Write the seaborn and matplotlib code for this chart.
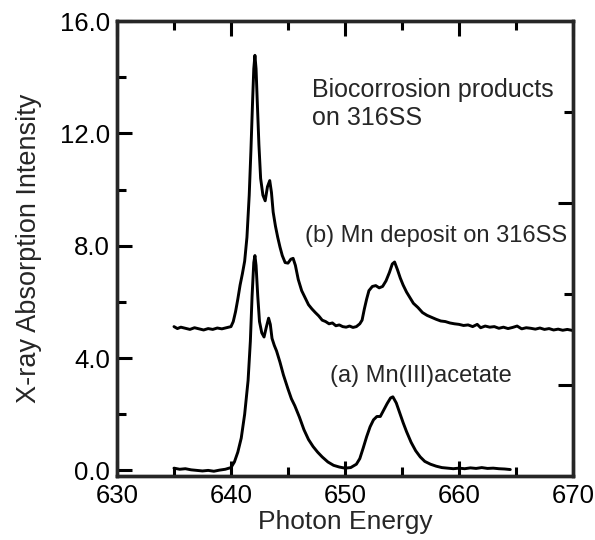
import matplotlib
matplotlib.use("Agg")
import matplotlib.pyplot as plt
from matplotlib.ticker import MultipleLocator, FixedLocator, FormatStrFormatter, NullFormatter
import pandas as pd
import seaborn as sns

# (a) Mn(III) acetate reference spectrum
energy_a = [635.0, 635.5, 636.0, 636.5, 637.0, 637.5, 638.0, 638.5, 639.0, 639.5,
            640.0, 640.3, 640.6, 640.9, 641.2, 641.5, 641.7, 641.85, 642.0, 642.1,
            642.2, 642.35, 642.5, 642.7, 642.9, 643.1, 643.3, 643.45, 643.6, 643.8,
            644.0, 644.3, 644.6, 645.0, 645.3, 645.6, 646.0, 646.4, 646.8, 647.2,
            647.6, 648.0, 648.5, 649.0, 649.5, 650.0, 650.5, 651.0, 651.3, 651.6,
            651.9, 652.2, 652.5, 652.8, 653.1, 653.4, 653.7, 654.0, 654.2, 654.5,
            654.8, 655.1, 655.4, 655.8, 656.2, 656.6, 657.0, 657.5, 658.0, 658.5,
            659.0, 659.5, 660.0, 660.5, 661.0, 661.5, 662.0, 662.5, 663.0, 663.5,
            664.0, 664.5]
intensity_a = [0.08, 0.04, 0.06, 0.02, 0.00, -0.02, 0.00, -0.03, 0.01, 0.04,
               0.10, 0.30, 0.65, 1.15, 2.00, 3.20, 4.60, 6.20, 7.40, 7.65,
               7.30, 6.20, 5.30, 4.90, 4.75, 5.10, 5.42, 5.20, 4.70, 4.45,
               4.25, 3.85, 3.40, 2.90, 2.55, 2.30, 1.90, 1.45, 1.10, 0.85,
               0.65, 0.48, 0.30, 0.18, 0.12, 0.08, 0.10, 0.22, 0.42, 0.80,
               1.20, 1.55, 1.80, 1.92, 1.92, 2.15, 2.38, 2.58, 2.62, 2.40,
               2.05, 1.70, 1.38, 1.00, 0.70, 0.48, 0.32, 0.22, 0.15, 0.10,
               0.08, 0.06, 0.08, 0.06, 0.09, 0.07, 0.10, 0.07, 0.08, 0.06,
               0.05, 0.03]

# (b) Mn deposit on 316SS (offset spectrum)
energy_b = [635.0, 635.3, 635.6, 636.0, 636.4, 636.8, 637.2, 637.6, 638.0, 638.4,
            638.8, 639.2, 639.6, 640.0, 640.2, 640.4, 640.6, 640.8, 641.0, 641.2,
            641.4, 641.6, 641.75, 641.9, 642.0, 642.1, 642.2, 642.3, 642.45, 642.6,
            642.8, 643.0, 643.2, 643.4, 643.55, 643.7, 643.9, 644.1, 644.3, 644.5,
            644.75, 645.0, 645.25, 645.45, 645.65, 645.9, 646.2, 646.5, 646.8, 647.1,
            647.4, 647.7, 648.0, 648.3, 648.6, 648.9, 649.2, 649.5, 649.8, 650.1,
            650.4, 650.7, 651.0, 651.3, 651.5, 651.7, 651.9, 652.1, 652.4, 652.7,
            653.0, 653.3, 653.6, 653.9, 654.15, 654.35, 654.6, 654.85, 655.1, 655.4,
            655.7, 656.0, 656.4, 656.8, 657.2, 657.6, 658.0, 658.4, 658.8, 659.2,
            659.6, 660.0, 660.4, 660.8, 661.2, 661.6, 661.9, 662.3, 662.7, 663.1,
            663.5, 663.9, 664.3, 664.7, 665.1, 665.5, 665.9, 666.3, 666.7, 667.1,
            667.5, 667.9, 668.3, 668.7, 669.1, 669.5, 670.0]
intensity_b = [5.12, 5.05, 5.10, 5.06, 5.02, 5.08, 5.04, 5.00, 5.05, 5.02,
               5.07, 5.04, 5.08, 5.12, 5.30, 5.65, 6.10, 6.60, 7.00, 7.45,
               8.30, 9.80, 11.40, 13.20, 14.30, 14.78, 14.30, 13.20, 11.60, 10.40,
               9.80, 9.60, 10.10, 10.32, 9.90, 9.20, 8.70, 8.30, 7.95, 7.65,
               7.40, 7.38, 7.52, 7.55, 7.30, 6.80, 6.40, 6.15, 5.90, 5.75,
               5.62, 5.50, 5.35, 5.30, 5.22, 5.25, 5.15, 5.18, 5.12, 5.10,
               5.14, 5.09, 5.12, 5.22, 5.35, 5.75, 6.10, 6.40, 6.55, 6.58,
               6.50, 6.55, 6.75, 7.05, 7.35, 7.42, 7.15, 6.85, 6.60, 6.35,
               6.15, 5.95, 5.80, 5.62, 5.52, 5.45, 5.38, 5.32, 5.30, 5.25,
               5.22, 5.20, 5.16, 5.18, 5.12, 5.20, 5.08, 5.14, 5.10, 5.12,
               5.06, 5.10, 5.05, 5.09, 5.14, 5.04, 5.08, 5.06, 5.03, 5.07,
               5.02, 5.05, 5.00, 5.03, 4.99, 5.02, 4.98]

x_ticks = [630, 640, 650, 660, 670]
y_ticks = [0.0, 4.0, 8.0, 12.0, 16.0]

sns.set_theme(style="ticks")
plt.rcParams["font.family"] = ["Liberation Sans", "DejaVu Sans"]

spectra = pd.concat([
    pd.DataFrame({"energy": energy_a, "intensity": intensity_a, "sample": "a"}),
    pd.DataFrame({"energy": energy_b, "intensity": intensity_b, "sample": "b"}),
])

fig = plt.figure(figsize=(5.95, 5.40), dpi=100)
ax = fig.add_axes([0.1966, 0.1185, 0.7664, 0.8425])

sns.lineplot(data=spectra, x="energy", y="intensity", units="sample",
             estimator=None, sort=False, color="black", linewidth=2.1, ax=ax)

ax.set_xlim(630, 670)
ax.set_ylim(-0.2, 16)
ax.xaxis.set_major_locator(FixedLocator(x_ticks))
ax.xaxis.set_minor_locator(MultipleLocator(5))
ax.yaxis.set_major_locator(FixedLocator(y_ticks))
ax.yaxis.set_minor_locator(MultipleLocator(2))
ax.yaxis.set_major_formatter(FormatStrFormatter("%.1f"))

ax.tick_params(which="both", direction="in", top=True, right=False,
               width=2.2, colors="black", labelsize=18.5)
ax.tick_params(axis="x", which="major", length=11, pad=6)
ax.tick_params(axis="x", which="minor", length=6.5)
ax.tick_params(axis="y", which="major", length=11, pad=5)
ax.tick_params(axis="y", which="minor", length=6.5)

for side in ["left", "right", "top", "bottom"]:
    ax.spines[side].set_visible(True)
    ax.spines[side].set_linewidth(2.4)
    ax.spines[side].set_color("black")

# right-hand frame carries its own unlabeled tick scale
rax = ax.twinx()
rax.set_ylim(0, 1)
rax.yaxis.set_major_locator(FixedLocator([0.2, 0.6]))
rax.yaxis.set_minor_locator(FixedLocator([0.4, 0.8]))
rax.yaxis.set_major_formatter(NullFormatter())
rax.tick_params(which="both", direction="in", width=2.2, colors="black")
rax.tick_params(which="major", length=11)
rax.tick_params(which="minor", length=6.5)
for side in ["left", "right", "top", "bottom"]:
    rax.spines[side].set_linewidth(2.4)

ax.set_xlabel("Photon Energy", fontsize=19, labelpad=1)
ax.set_ylabel("X-ray Absorption Intensity", fontsize=19.5, labelpad=13)

ax.text(647.07, 13.28, "Biocorrosion products", fontsize=18,
        ha="left", va="baseline")
ax.text(647.07, 12.29, "on 316SS", fontsize=18,
        ha="left", va="baseline")
ax.text(646.5, 8.12, "(b) Mn deposit on 316SS", fontsize=17,
        ha="left", va="baseline")
ax.text(648.7, 3.13, "(a) Mn(III)acetate", fontsize=17,
        ha="left", va="baseline")

fig.savefig("out.png", dpi=100, facecolor="white")
